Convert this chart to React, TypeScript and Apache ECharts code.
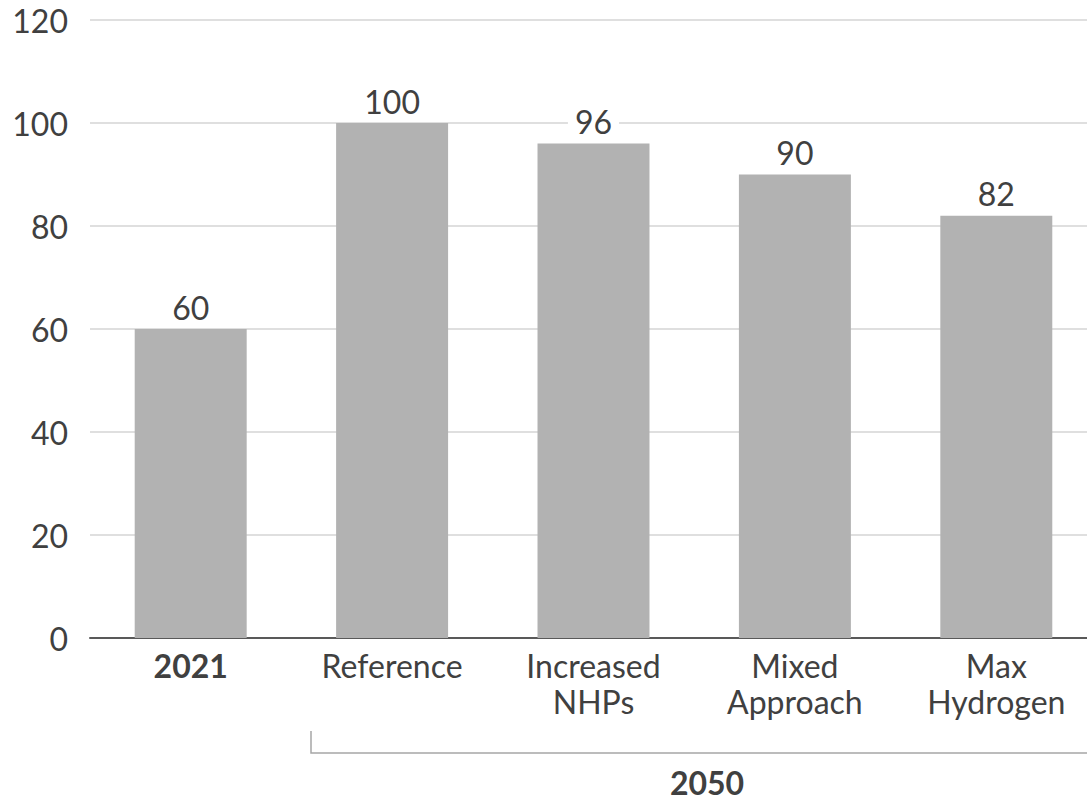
import React, { useEffect, useRef } from "react";
import * as echarts from "echarts";

// Scenario categories along the x axis and their values
const categories = ["2021", "Reference", "Increased\nNHPs", "Mixed\nApproach", "Max\nHydrogen"];
const values = [60, 100, 96, 90, 82];
const boldCategories = ["2021"];
const groupLabel = "2050";

const FONT = "Lato, 'Noto Sans', sans-serif";
const TEXT = "#404040";
const SIZE = 32;

export default function App() {
  const ref = useRef<HTMLDivElement>(null);

  useEffect(() => {
    document.body.style.margin = "0";
    document.body.style.overflow = "hidden";
    const chart = echarts.init(ref.current!, undefined, { renderer: "svg" });
    chart.setOption({
      animation: false,
      backgroundColor: "#ffffff",
      grid: { left: 90, right: 3, top: 20, bottom: 164, containLabel: false },
      xAxis: {
        type: "category",
        data: categories.map((c) =>
          boldCategories.includes(c)
            ? { value: c, textStyle: { fontWeight: "bold" } }
            : { value: c }
        ),
        axisLine: { show: true, lineStyle: { color: "#595959", width: 2 } },
        axisTick: { show: false },
        axisLabel: {
          interval: 0,
          margin: 9,
          fontFamily: FONT,
          fontSize: SIZE,
          lineHeight: 36,
          color: TEXT,
        },
      },
      yAxis: {
        type: "value",
        min: 0,
        max: 120,
        interval: 20,
        axisLine: { show: false },
        axisTick: { show: false },
        axisLabel: {
          margin: 22,
          fontFamily: FONT,
          fontSize: SIZE,
          color: TEXT,
        },
        splitLine: { lineStyle: { color: "#d4d4d4", width: 1.5 } },
      },
      series: [
        {
          type: "bar",
          data: values,
          barWidth: "55.6%",
          itemStyle: { color: "#b2b2b2" },
          label: {
            show: true,
            position: "top",
            distance: 6,
            fontFamily: FONT,
            fontSize: SIZE,
            color: TEXT,
            backgroundColor: "#ffffff",
            padding: [0, 7, 0, 7],
          },
        },
      ],
      graphic: [
        {
          type: "polyline",
          shape: { points: [[311, 731], [311, 753], [1100, 753]] },
          style: { stroke: "#a6a6a6", lineWidth: 1.5, fill: null },
        },
        {
          type: "text",
          x: 707,
          y: 782,
          style: {
            text: groupLabel,
            fontFamily: FONT,
            fontSize: SIZE,
            fontWeight: "bold",
            fill: TEXT,
            align: "center",
            verticalAlign: "middle",
          },
        },
      ],
    });
    return () => chart.dispose();
  }, []);

  return (
    <div style={{ position: "fixed", left: 0, top: 0, width: 1087, height: 802, overflow: "hidden" }}>
      <div ref={ref} style={{ width: 1100, height: 802 }} />
    </div>
  );
}
